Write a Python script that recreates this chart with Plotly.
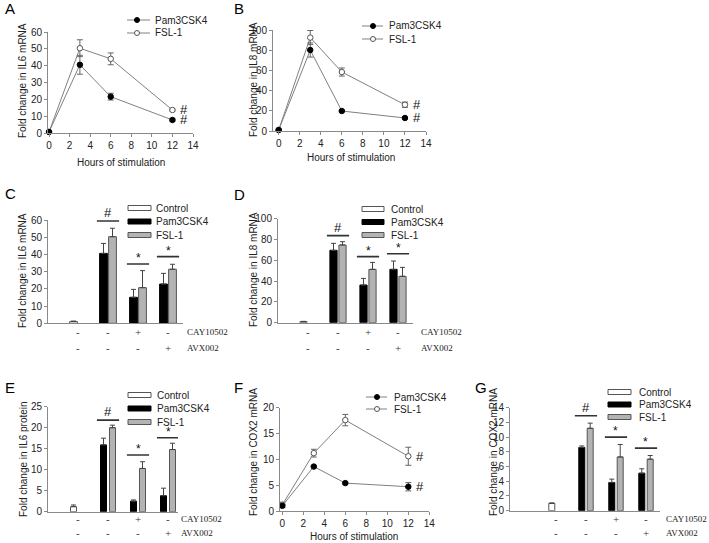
import plotly.graph_objects as go

W, H = 709, 543

# ---------------- data ----------------
HOURS = [0, 3, 6, 12]
A_PAM = [0.8, 40.6, 21.7, 7.9]
A_PAM_ERR = [0.4, 5.6, 2.0, 0.8]
A_FSL = [0.8, 50.4, 44.1, 13.8]
A_FSL_ERR = [0.4, 5.0, 3.5, 0.6]
B_PAM = [1, 80.2, 19.8, 12.9]
B_PAM_ERR = [0.5, 7.0, 0.8, 0.8]
B_FSL = [1, 92.5, 58.4, 26.0]
B_FSL_ERR = [0.5, 7.0, 4.0, 2.6]
F_PAM = [1.0, 8.6, 5.4, 4.7]
F_PAM_ERR = [0.3, 0.2, 0.2, 0.8]
F_FSL = [1.2, 11.2, 17.6, 10.6]
F_FSL_ERR = [0.5, 0.75, 1.1, 1.75]

GROUPS = [1, 2, 3, 4]
CAY_SIGNS = ["-", "-", "+", "-"]
AVX_SIGNS = ["-", "-", "-", "+"]

C_CTRL = [1.0, None, None, None]
C_CTRL_ERR = [0.3, 0, 0, 0]
C_PAM = [None, 40.6, 15.1, 22.8]
C_PAM_ERR = [0, 5.8, 4.6, 6.2]
C_FSL = [None, 50.3, 20.7, 31.4]
C_FSL_ERR = [0, 4.9, 9.9, 2.9]

D_CTRL = [1.0, None, None, None]
D_CTRL_ERR = [0.3, 0, 0, 0]
D_PAM = [None, 69.6, 36.2, 51.3]
D_PAM_ERR = [0, 6.7, 6.4, 8.0]
D_FSL = [None, 74.7, 51.3, 44.6]
D_FSL_ERR = [0, 3.2, 6.7, 8.6]

E_CTRL = [1.2, None, None, None]
E_CTRL_ERR = [0.4, 0, 0, 0]
E_PAM = [None, 15.9, 2.5, 3.8]
E_PAM_ERR = [0, 1.6, 0.3, 1.8]
E_FSL = [None, 20.0, 10.3, 14.8]
E_FSL_ERR = [0, 0.6, 1.6, 1.5]

G_CTRL = [1.0, None, None, None]
G_CTRL_ERR = [0.05, 0, 0, 0]
G_PAM = [None, 8.6, 3.84, 5.1]
G_PAM_ERR = [0, 0.2, 0.45, 0.6]
G_FSL = [None, 11.2, 7.3, 7.0]
G_FSL_ERR = [0, 0.7, 1.7, 0.5]

# significance bars (value level of the line) and marks
SIG_MARKS = ["#", "*", "*"]
C_SIG = [59.4, 34.4, 38.7]
D_SIG = [83.7, 63.5, 66.3]
E_SIG = [21.8, 13.5, 17.6]
G_SIG = [12.9, 10.0, 8.5]

FONT = "Liberation Sans, Arial, sans-serif"
SERIF = "Liberation Serif, Times New Roman, serif"
TXT = "#222222"
AX = "#8a8a8a"


def fx(px):
    return px / W


def fy(py):
    return 1 - py / H


fig = go.Figure()
layout = {}
annotations = []
shapes = []

# panel geometry: (x0px, x1px, ytop_px, ybot_px, xrange, yrange, dtick)
PANELS = {
    1: (48, 193, 32.0, 133.3, [-0.1, 14], [0, 60], 10),
    2: (273, 426, 30.0, 131.0, [-0.54, 14], [0, 100], 20),
    3: (48, 183, 220.0, 323.3, [0, 4.5], [0, 60], 10),
    4: (278, 413, 218.7, 322.7, [0, 4.5], [0, 100], 20),
    5: (48, 178, 406.7, 511.7, [0, 4.333], [0, 25], 5),
    6: (280, 429.3, 407.7, 511.0, [-0.22, 14], [0, 20], 5),
    7: (510, 660, 407.7, 510.7, [-0.533, 4.467], [0, 14], 2),
}
LINE_PANELS = {1, 2, 6}

for n, (x0, x1, yt, yb, xr, yr, dt) in PANELS.items():
    sfx = "" if n == 1 else str(n)
    is_line = n in LINE_PANELS
    layout["xaxis" + sfx] = dict(
        domain=[fx(x0), fx(x1)], range=xr, anchor="y" + sfx,
        showgrid=False, zeroline=False, showline=True, linecolor=AX, linewidth=1,
        ticks="outside" if is_line else "", ticklen=3, tickcolor=AX,
        showticklabels=is_line, tickmode="linear", tick0=0, dtick=2,
        tickfont=dict(family=FONT, size=10, color=TXT), automargin=False, fixedrange=True,
    )
    layout["yaxis" + sfx] = dict(
        domain=[fy(yb), fy(yt)], range=yr, anchor="x" + sfx,
        showgrid=False, zeroline=False, showline=True, linecolor=AX, linewidth=1,
        ticks="outside", ticklen=3, tickcolor=AX, tickmode="linear", tick0=0, dtick=dt,
        tickfont=dict(family=FONT, size=10, color=TXT), automargin=False, fixedrange=True,
    )


def axes(n):
    return ("x", "y") if n == 1 else ("x%d" % n, "y%d" % n)


# ---------------- line panels ----------------
def line_panel(n, pam, pam_err, fsl, fsl_err):
    xa, ya = axes(n)
    for vals, err, fill in ((fsl, fsl_err, "white"), (pam, pam_err, "black")):
        fig.add_trace(go.Scatter(
            x=HOURS, y=vals, xaxis=xa, yaxis=ya, mode="lines+markers",
            line=dict(color="#808080", width=1),
            marker=dict(symbol="circle", size=5.5, color=fill,
                        line=dict(color="#555555" if fill == "white" else "black", width=1)),
            error_y=dict(type="data", array=err, visible=True, color="#666666", thickness=1, width=3),
            showlegend=False, cliponaxis=False,
        ))
    for v in (pam[-1], fsl[-1]):
        annotations.append(dict(x=13.1, y=v, xref=xa, yref=ya, text="#", showarrow=False,
                                xanchor="center", yanchor="middle",
                                font=dict(family=FONT, size=13, color="#111111")))


line_panel(1, A_PAM, A_PAM_ERR, A_FSL, A_FSL_ERR)
line_panel(2, B_PAM, B_PAM_ERR, B_FSL, B_FSL_ERR)
line_panel(6, F_PAM, F_PAM_ERR, F_FSL, F_FSL_ERR)


# ---------------- bar panels ----------------
def bar_panel(n, ctrl, ctrl_err, pam, pam_err, fsl, fsl_err, sig, bw, half):
    xa, ya = axes(n)
    specs = [
        (ctrl, ctrl_err, "white", -half),
        (pam, pam_err, "black", -half),
        (fsl, fsl_err, "#b3b3b3", half),
    ]
    for vals, err, col, cen in specs:
        fig.add_trace(go.Bar(
            x=GROUPS, y=vals, xaxis=xa, yaxis=ya, width=bw, offset=cen - bw / 2,
            marker=dict(color=col, line=dict(color="#555555" if col != "black" else "black", width=1)),
            error_y=dict(type="data", array=err, arrayminus=[0] * len(err), symmetric=False,
                         visible=True, color="#444444", thickness=1, width=2.5),
            showlegend=False,
        ))
    for g, lvl, mark in zip(GROUPS[1:], sig, SIG_MARKS):
        shapes.append(dict(type="line", xref=xa, yref=ya, x0=g - 0.37, x1=g + 0.37, y0=lvl, y1=lvl,
                           line=dict(color="#333333", width=1.6)))
        annotations.append(dict(x=g, y=lvl, xref=xa, yref=ya, text=mark, showarrow=False,
                                xanchor="center", yanchor="bottom", yshift=-1 if mark == "#" else -3,
                                font=dict(family=FONT, size=13 if mark == "#" else 12, color="#111111")))


bar_panel(3, C_CTRL, C_CTRL_ERR, C_PAM, C_PAM_ERR, C_FSL, C_FSL_ERR, C_SIG, 0.26, 0.15)
bar_panel(4, D_CTRL, D_CTRL_ERR, D_PAM, D_PAM_ERR, D_FSL, D_FSL_ERR, D_SIG, 0.24, 0.15)
bar_panel(5, E_CTRL, E_CTRL_ERR, E_PAM, E_PAM_ERR, E_FSL, E_FSL_ERR, E_SIG, 0.2, 0.15)
bar_panel(7, G_CTRL, G_CTRL_ERR, G_PAM, G_PAM_ERR, G_FSL, G_FSL_ERR, G_SIG, 0.2, 0.14)

# treatment sign rows
ROWS = {3: (332, 348, 185), 4: (332, 348, 419), 5: (519, 533, 179), 7: (519, 533, 664)}
for n, (r1, r2, lx) in ROWS.items():
    xa, _ = axes(n)
    for signs, ry in ((CAY_SIGNS, r1), (AVX_SIGNS, r2)):
        for g, s in zip(GROUPS, signs):
            annotations.append(dict(x=g, y=fy(ry), xref=xa, yref="paper", text=s, showarrow=False,
                                    xanchor="center", yanchor="middle",
                                    font=dict(family=SERIF, size=11, color="#333333")))
    annotations.append(dict(x=fx(lx), y=fy(r1), xref="paper", yref="paper", text="CAY10502",
                            showarrow=False, xanchor="left", yanchor="middle",
                            font=dict(family=SERIF, size=9, color="#222222")))
    annotations.append(dict(x=fx(lx), y=fy(r2), xref="paper", yref="paper", text="AVX002",
                            showarrow=False, xanchor="left", yanchor="middle",
                            font=dict(family=SERIF, size=9, color="#222222")))


def txt(px, py, s, size=10, anchor="left", angle=0, family=FONT, color=TXT):
    annotations.append(dict(x=fx(px), y=fy(py), xref="paper", yref="paper", text=s,
                            showarrow=False, xanchor=anchor, yanchor="middle", textangle=angle,
                            font=dict(family=family, size=size, color=color)))


# panel letters
for s, px, py in (("A", 3, 9), ("B", 232, 9), ("C", 3, 193), ("D", 232, 194),
                  ("E", 3, 387), ("F", 232, 387), ("G", 473, 387)):
    txt(px, py, s, size=15, color="#000000")

# y titles
for s, px, py in (("Fold change in IL6 mRNA", 23, 81), ("Fold change in IL8 mRNA", 253, 80),
                  ("Fold change in IL6 mRNA", 23, 271), ("Fold change in IL8 mRNA", 253, 270),
                  ("Fold change in IL6 protein", 23, 459), ("Fold change in COX2 mRNA", 253, 452),
                  ("Fold change in COX2 mRNA", 493, 452)):
    txt(px, py, s, size=10, anchor="center", angle=-90)

# x titles
for px, py in ((121, 162), (351, 157), (354, 536.5)):
    txt(px, py, "Hours of stimulation", size=10, anchor="center")

# legends for line panels
for (lx0, lx1, mx, ty, y1, y2) in ((127, 150, 137, 153, 20, 33), (362, 383, 373, 387, 26, 39),
                                    (366, 387, 377, 392, 397, 409)):
    for yy, fill, lab in ((y1, "black", "Pam3CSK4"), (y2, "white", "FSL-1")):
        shapes.append(dict(type="line", xref="paper", yref="paper", x0=fx(lx0), x1=fx(lx1),
                           y0=fy(yy), y1=fy(yy), line=dict(color="#808080", width=1)))
        shapes.append(dict(type="circle", xref="paper", yref="paper", x0=fx(mx - 2.5), x1=fx(mx + 2.5),
                           y0=fy(yy + 2.5), y1=fy(yy - 2.5), fillcolor=fill,
                           line=dict(color="#555555" if fill == "white" else "black", width=1)))
        txt(ty, yy, lab)

# legends for bar panels
for (sx0, sx1, tx, ys) in ((128, 151, 154, (208, 221.5, 235)), (362, 384, 389, (209, 222, 235)),
                           (128, 151, 155, (395, 408.5, 422)), (608, 631, 637, (392, 404.5, 417))):
    for yy, fill, lab in zip(ys, ("white", "black", "#b3b3b3"), ("Control", "Pam3CSK4", "FSL-1")):
        shapes.append(dict(type="rect", xref="paper", yref="paper", x0=fx(sx0), x1=fx(sx1),
                           y0=fy(yy + 2.5), y1=fy(yy - 2.5), fillcolor=fill,
                           line=dict(color="#555555" if fill != "black" else "black", width=1)))
        txt(tx, yy, lab)

fig.update_layout(
    width=W, height=H, margin=dict(l=0, r=0, t=0, b=0),
    paper_bgcolor="white", plot_bgcolor="white", barmode="overlay",
    showlegend=False, annotations=annotations, shapes=shapes,
    font=dict(family=FONT, size=10, color=TXT),
    **layout,
)

fig.write_html(
    "out.html",
    config={"displayModeBar": False},
    post_script="document.body.style.margin='0';document.body.style.overflow='hidden';",
)
